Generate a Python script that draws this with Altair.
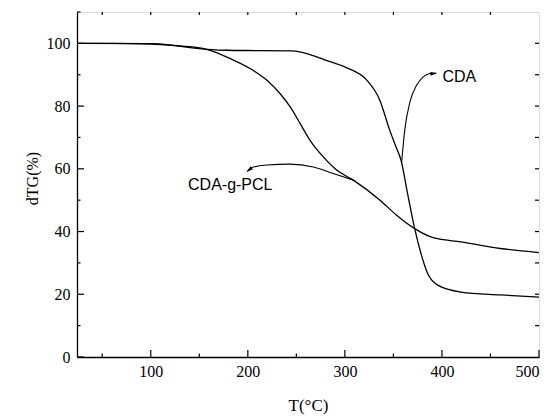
import altair as alt
import pandas as pd

# --- data ---
cda_x = [24, 100, 157.6, 178.2, 209.1, 243.5, 255, 268, 277.8, 295.0, 302, 322.5, 336, 346, 352, 357.8,
         364.6, 371.5, 378.4, 385.3, 395.6, 419.6, 460, 500]
cda_y = [100, 99.9, 98.1, 97.8, 97.7, 97.6, 97.2, 96.0, 94.9, 93.1, 92.2, 88.3, 81.9, 72.5, 67.5, 62.8,
         52.1, 41.5, 33.0, 26.6, 22.9, 20.7, 19.8, 19.1]

pcl_x = [24, 60, 100, 130, 157.6, 181.6, 202.2, 219.4, 233.1, 243.5, 253.8, 264.1, 277.8, 291.5,
         308.7, 336.2, 353.3, 371.5, 388.7, 394.6, 419.6, 460, 500]
pcl_y = [100, 100, 99.8, 99.2, 98.1, 95.2, 92.0, 88.3, 84.0, 79.8, 74.5, 69.1, 63.8, 59.6,
         56.4, 50.0, 45.2, 41.0, 38.3, 37.8, 36.7, 34.6, 33.3]

# annotation arrows (data coordinates)
arrow_cda_x = [358.5, 361.9, 367.1, 374.0, 380.8, 387.7, 394.0]
arrow_cda_y = [62.2, 72.9, 81.4, 86.7, 89.3, 90.4, 90.5]
arrow_pcl_x = [199.5, 204.0, 219.4, 243.5, 267.5, 288.1, 308.7]
arrow_pcl_y = [59.2, 60.4, 61.2, 61.5, 60.6, 58.5, 56.4]

head_x = [394.9, 198.8]
head_y = [90.5, 59.0]
head_angle = [84, 230]

label_text = ["CDA", "CDA-g-PCL"]
label_x = [400.5, 138.4]
label_y = [89.4, 55.0]

x_major = [100, 200, 300, 400, 500]
x_minor = [50, 150, 250, 350, 450]
x_top = [50, 100, 150, 200, 250, 300, 350, 400, 450]
y_major = [0, 20, 40, 60, 80, 100]
y_minor = [10, 30, 50, 70, 90, 110]
y_right = [10, 20, 30, 40, 50, 60, 70, 80, 90, 100]

W, H = 462, 345

curves = pd.concat([
    pd.DataFrame({"T": cda_x, "v": cda_y, "s": "CDA"}),
    pd.DataFrame({"T": pcl_x, "v": pcl_y, "s": "CDA-g-PCL"}),
])
arrows = pd.concat([
    pd.DataFrame({"T": arrow_cda_x, "v": arrow_cda_y, "s": "a1"}),
    pd.DataFrame({"T": arrow_pcl_x, "v": arrow_pcl_y, "s": "a2"}),
])
heads = pd.DataFrame({"T": head_x, "v": head_y, "ang": head_angle})
labels = pd.DataFrame({"T": label_x, "v": label_y, "t": label_text})

xs = alt.Scale(domain=[24, 500], nice=False, zero=False)
ys = alt.Scale(domain=[0, 110], nice=False, zero=False)

serif = "Liberation Serif"
sans = "Liberation Sans"

x_axis = alt.Axis(values=x_major, grid=False, ticks=True, tickSize=0,
                  labelPadding=6, labelFont=serif, labelFontSize=16, labelColor="black",
                  titleFont=serif, titleFontSize=17, titleFontWeight="normal", titleColor="black",
                  titlePadding=18, domainColor="black", domainWidth=1.3)
y_axis = alt.Axis(values=y_major, grid=False, ticks=True, tickSize=0,
                  labelPadding=7, labelFont=serif, labelFontSize=16, labelColor="black",
                  titleFont=serif, titleFontSize=16, titleFontWeight="normal", titleColor="black",
                  titlePadding=6, titleY=166, domainColor="black", domainWidth=1.3)

X = lambda: alt.X("T:Q", scale=xs, axis=x_axis, title="T(°C)")
Y = lambda: alt.Y("v:Q", scale=ys, axis=y_axis, title="dTG(%)")

lines = alt.Chart(curves).mark_line(color="black", strokeWidth=1.3, interpolate="monotone").encode(
    x=X(), y=Y(), detail="s:N",
)

arrow_lines = alt.Chart(arrows).mark_line(color="black", strokeWidth=1.1, interpolate="monotone").encode(
    x=X(), y=Y(), detail="s:N",
)

arrow_heads = alt.Chart(heads).mark_point(
    shape="M0,0L0.7,2.4L-0.7,2.4Z", filled=True, color="black", size=30, opacity=1
).encode(
    x=X(), y=Y(),
    angle=alt.Angle("ang:Q", scale=None),
)

texts = alt.Chart(labels).mark_text(align="left", baseline="middle", font=sans, fontSize=16,
                                    color="black").encode(
    x=X(), y=Y(), text="t:N",
)

def xticks(vals, y0, y1):
    return alt.Chart(pd.DataFrame({"T": vals})).mark_rule(color="black", strokeWidth=1.2).encode(
        x=X(), y=alt.value(y0), y2=alt.value(y1))

def yticks(vals, x0, x1):
    return alt.Chart(pd.DataFrame({"v": vals})).mark_rule(color="black", strokeWidth=1.2).encode(
        y=Y(), x=alt.value(x0), x2=alt.value(x1))

chart = alt.layer(
    lines, arrow_lines, arrow_heads, texts,
    xticks(x_major, H, H - 7), xticks(x_minor, H, H - 3.5), xticks(x_top, 0, 3),
    yticks(y_major, 0, 7), yticks(y_minor, 0, 3.5), yticks(y_right, W, W - 4),
).properties(
    width=W, height=H,
    autosize=alt.AutoSizeParams(type="none"),
    padding={"left": 77, "top": 12, "right": 13, "bottom": 59},
).configure_view(stroke="black", strokeWidth=1.3).configure(background="white")

chart.save("out.html", embed_options={"renderer": "svg", "actions": False})
